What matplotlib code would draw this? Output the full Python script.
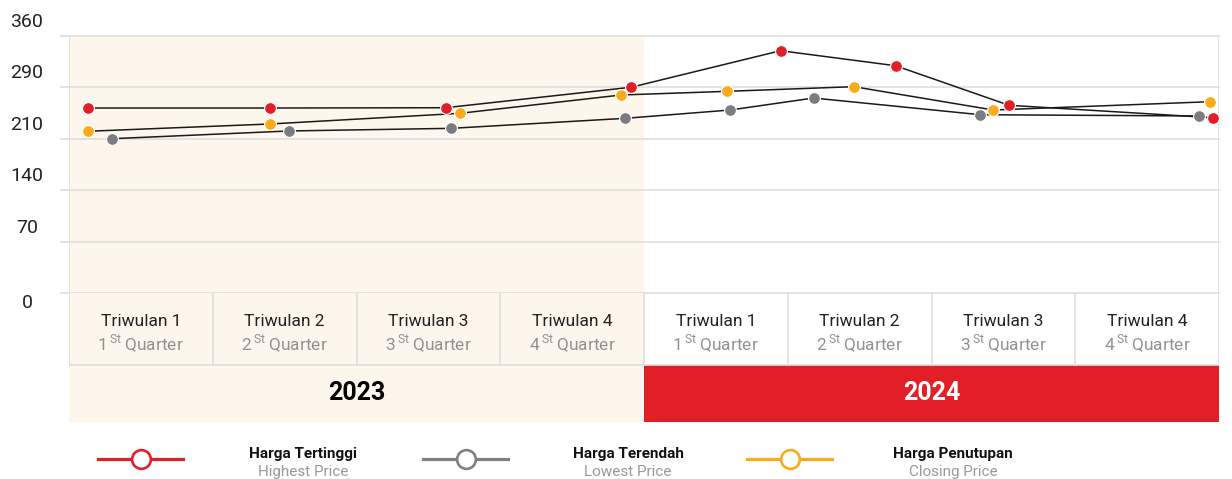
import matplotlib
matplotlib.use("Agg")
import matplotlib.pyplot as plt
from matplotlib.patches import Rectangle
from matplotlib.lines import Line2D

plt.rcParams['font.family'] = ['Roboto', 'DejaVu Sans']
plt.rcParams['mathtext.fontset'] = 'custom'
plt.rcParams['mathtext.rm'] = 'Roboto'

# data: x is position in quarters (0 = start of Q1 2023), y in axis units
high_x = [0.13, 1.40, 2.62, 3.91, 4.95, 5.75, 6.54, 7.96]
high_y = [251.7, 251.7, 252.1, 279.9, 329.6, 309.2, 255.4, 238.5]
low_x = [0.30, 1.53, 2.66, 3.87, 4.60, 5.18, 6.34, 7.86]
low_y = [210.0, 220.5, 224.1, 237.7, 249.0, 265.3, 242.6, 240.9]
close_x = [0.13, 1.40, 2.72, 3.84, 4.58, 5.46, 6.43, 7.94]
close_y = [220.1, 230.0, 244.5, 269.4, 274.4, 280.7, 249.0, 260.3]

ytick_pos = [0, 70, 140, 210, 280, 350]
ytick_labels = ['0', '70', '140', '210', '290', '360']
quarters = ['1', '2', '3', '4']
years = ['2023', '2024']
legend_title = ['Harga Tertinggi', 'Harga Terendah', 'Harga Penutupan']
legend_sub = ['Highest Price', 'Lowest Price', 'Closing Price']

RED = '#e21f26'
GRAY = '#7b7c7f'
ORANGE = '#f9ab1a'
BEIGE = '#fdf6ec'
GRID = '#dedede'

W, H = 1232, 479
fig = plt.figure(figsize=(W / 100, H / 100), dpi=100)

x0, x1 = 69, 1219
y_top, y_zero, y_tbl, y_bot = 35.7, 293.2, 365, 421.7

# main plot
ax = fig.add_axes([x0 / W, 1 - y_zero / H, (x1 - x0) / W, (y_zero - y_top) / H])
ax.set_xlim(0, 8)
ax.set_ylim(0, 350)
ax.axvspan(0, 4, color=BEIGE, zorder=0, lw=0)
for yv in ytick_pos:
    ax.add_line(Line2D([-8 / 143.75, 8], [yv, yv], color=GRID, lw=1.2, zorder=1, clip_on=False))
ax.axvline(8, color=GRID, lw=1.2, zorder=1)
ax.axvline(0, color=GRID, lw=1.2, zorder=1)
for s in ax.spines.values():
    s.set_visible(False)
ax.set_xticks([])
ax.set_yticks([])
for yv, lab in zip(ytick_pos, ytick_labels):
    off = -7 if yv == 0 else 10
    ax.annotate(lab, xy=(-42 / 143.75, yv), xytext=(0, off), textcoords='offset points',
                ha='center', va='center', fontsize=14, color='#222222', annotation_clip=False)

for xs, ys, c in [(high_x, high_y, RED), (close_x, close_y, ORANGE), (low_x, low_y, GRAY)]:
    ax.plot(xs, ys, color='#1a1a1a', lw=1.1, zorder=3)
for xs, ys, c in [(high_x, high_y, RED), (close_x, close_y, ORANGE), (low_x, low_y, GRAY)]:
    ax.plot(xs, ys, ls='none', marker='o', ms=8.5, mfc=c, mec='white', mew=0.8, zorder=4)

# table of quarters and years
tb = fig.add_axes([x0 / W, 1 - y_bot / H, (x1 - x0) / W, (y_bot - y_zero) / H])
tb.set_xlim(0, 8)
tb.set_ylim(y_bot - y_zero, 0)
tb.axis('off')
th = y_tbl - y_zero
tb.add_patch(Rectangle((0, 0), 4, y_bot - y_zero, color=BEIGE, lw=0))
tb.add_patch(Rectangle((4, th), 4, y_bot - y_tbl, color=RED, lw=0))
for k in range(9):
    tb.plot([k, k], [0, th], color=GRID, lw=1.2)
tb.plot([0, 8], [th, th], color=GRID, lw=1.2)
for yi in range(2):
    for qi, q in enumerate(quarters):
        cx = yi * 4 + qi + 0.5
        tb.text(cx, 28, 'Triwulan ' + q, ha='center', va='center', fontsize=12.5, color='#222222')
        tb.text(cx, 51, q + r'$\,^{\mathrm{St}}\,$Quarter', ha='center', va='center',
                fontsize=12.5, color='#929292')
    tb.text(yi * 4 + 2, th + (y_bot - y_tbl) / 2, years[yi], ha='center', va='center',
            fontsize=18, fontweight='bold', color='black' if yi == 0 else 'white')

# legend
lg = fig.add_axes([0, 0, 1, 1 - y_bot / H])
lg.set_xlim(0, W)
lg.set_ylim(H, y_bot)
lg.axis('off')
leg_colors = [RED, '#808080', ORANGE]
for i in range(3):
    lx = 141 + i * 324.5
    lg.plot([lx - 43, lx + 42], [458.5, 458.5], color=leg_colors[i], lw=2.3)
    lg.plot([lx], [458.5], marker='o', ms=13.5, mfc='white', mec=leg_colors[i], mew=1.9)
    tx = 303 + i * 325
    lg.text(tx, 453.5, legend_title[i], ha='center', va='center', fontsize=11,
            fontweight='bold', color='#111111')
    lg.text(tx, 471.5, legend_sub[i], ha='center', va='center', fontsize=11, color='#999999')

fig.savefig('out.png', dpi=100)
